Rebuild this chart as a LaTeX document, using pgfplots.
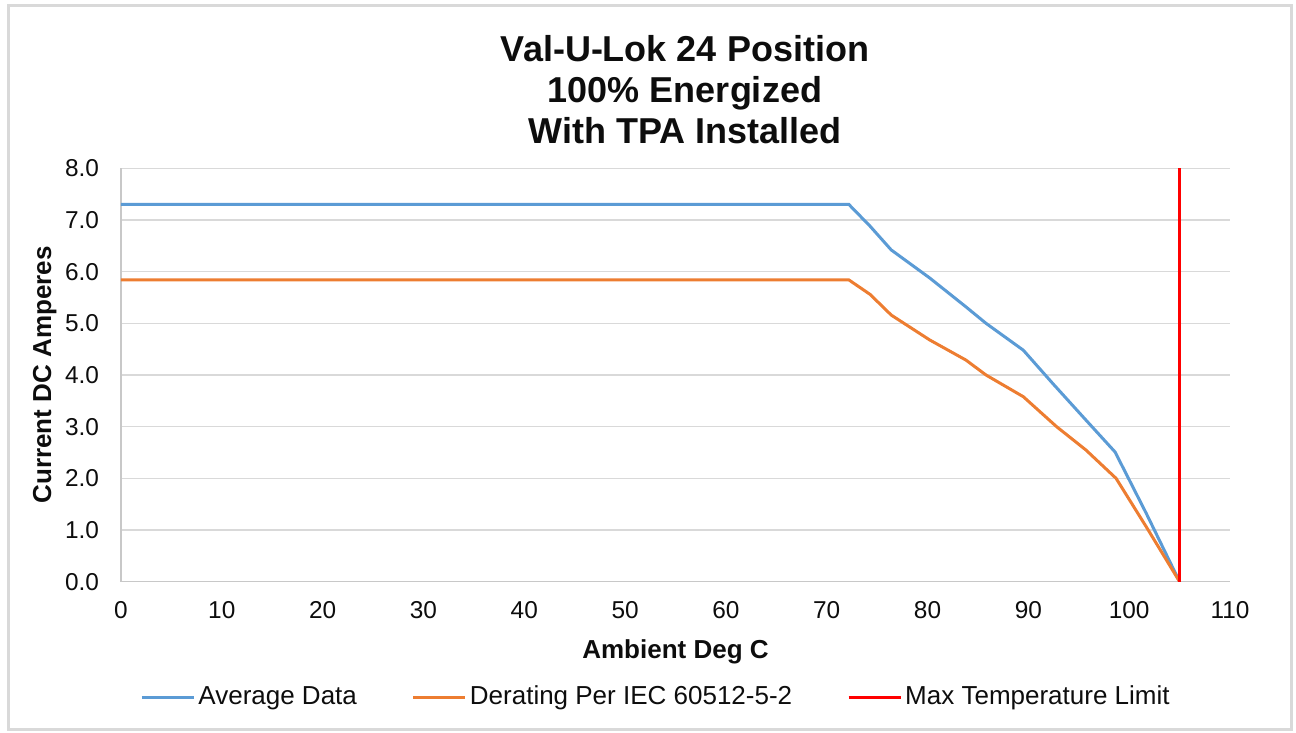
\documentclass[border=0pt]{standalone}
\usepackage{pgfplots}
\pgfplotsset{compat=1.18}
\usepackage{fontspec}
\setmainfont{Liberation Sans}
\definecolor{blueS}{RGB}{91,155,213}
\definecolor{orangeS}{RGB}{237,125,49}
\definecolor{redS}{RGB}{255,0,0}
\definecolor{gridgray}{RGB}{217,217,217}
\definecolor{axisgray}{RGB}{200,200,200}
\definecolor{txt}{RGB}{13,13,13}
\begin{document}
\begin{tikzpicture}
\path[use as bounding box] (0pt,0pt) rectangle (648pt,-366.5pt);
\draw[gridgray, line width=1.5pt] (4pt,-3pt) rectangle (645.5pt,-364.5pt);
\node[font=\fontsize{18}{20}\selectfont\bfseries, anchor=base, text=txt] at (342.5pt,-31pt) {Val-U-Lok 24 Position};
\node[font=\fontsize{18}{20}\selectfont\bfseries, anchor=base, text=txt] at (342.5pt,-51.5pt) {100\% Energized};
\node[font=\fontsize{18}{20}\selectfont\bfseries, anchor=base, text=txt] at (342.5pt,-71.5pt) {With TPA Installed};
\begin{axis}[
  at={(60.5pt,-290.85pt)}, anchor=south west,
  scale only axis, width=554.5pt, height=206.7pt,
  xmin=0, xmax=110, ymin=0, ymax=8,
  xtick={0,10,...,110}, ytick={0,1,...,8},
  major tick length=0pt,
  axis x line*=bottom, axis y line*=left,
  axis line style={-, color=axisgray, line width=0.75pt},
  ymajorgrids, grid style={gridgray, line width=0.75pt},
  /pgf/number format/assume math mode=true,
  ticklabel style={font=\fontsize{12.2}{14}\selectfont, text=txt},
  yticklabel={\pgfmathprintnumber[fixed,fixed zerofill,precision=1]{\tick}},
  yticklabel style={xshift=-7.5pt},
  xticklabel style={yshift=-6.5pt},
  xlabel={Ambient Deg C},
  ylabel={Current DC Amperes},
  label style={font=\fontsize{13}{15}\selectfont\bfseries, text=txt},
  xlabel style={at={(axis description cs:0.5,-0.1846)}, anchor=base},
  ylabel style={at={(axis description cs:-0.0631,0.5)}, anchor=base, rotate=0},
  legend columns=3,
  legend style={at={(0.4829,-0.279)}, anchor=center, draw=none, fill=none,
    font=\fontsize{13}{15}\selectfont, text=txt,
    nodes={inner sep=1.5pt},
    /tikz/every even column/.append style={column sep=26pt}},
  legend image code/.code={\draw[#1] (0pt,0pt) -- (26pt,0pt);},
]
\addplot[blueS, line width=1.5pt] coordinates {
(0,7.30) (72.2,7.30) (74.3,6.88) (76.4,6.42) (80.2,5.88) (83.8,5.32) (85.8,5.00) (89.5,4.48)
(92.4,3.84) (95.7,3.13) (98.6,2.51) (101.7,1.32) (105,0)};
\addlegendentry{Average Data}
\addplot[orangeS, line width=1.5pt] coordinates {
(0,5.84) (72.2,5.84) (74.3,5.56) (76.4,5.16) (80.2,4.68) (83.8,4.29) (85.8,4.00) (89.5,3.58)
(92.8,3.00) (95.7,2.55) (98.7,2.00) (101.7,1.06) (105,0)};
\addlegendentry{Derating Per IEC 60512-5-2}
\addplot[redS, line width=1.5pt] coordinates {(105,0) (105,8)};
\addlegendentry{Max Temperature Limit}
\end{axis}
\end{tikzpicture}
\end{document}
